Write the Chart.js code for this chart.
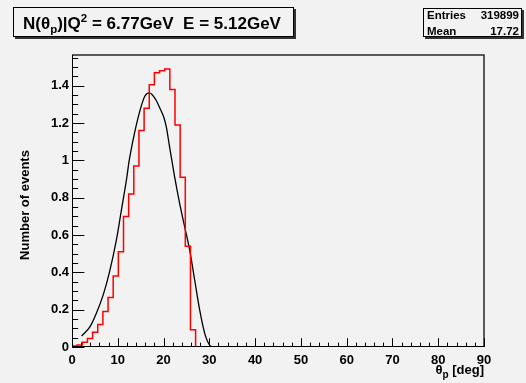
<!DOCTYPE html>
<html lang="en">

<head>
  <meta charset="utf-8">
  <title>N(theta_p) histogram</title>
  <script src="https://cdn.jsdelivr.net/npm/chart.js@4.4.0/dist/chart.umd.min.js"></script>
  <style>
    html, body { margin: 0; padding: 0; background: #f2f2f2; }
    canvas { display: block; }
  </style>
</head>

<body>
  <canvas id="myChart" width="526" height="383"></canvas>

  <script>
    // histogram: 80 bins from 0 to 90 deg
    const binWidth = 1.125;
    const histCounts = [
      0.005, 0.011, 0.025, 0.045, 0.079, 0.12, 0.19, 0.265, 0.38, 0.51,
      0.70, 0.82, 0.97, 1.16, 1.28, 1.405, 1.47, 1.48, 1.49, 1.38,
      1.19, 0.91, 0.54, 0.093, 0, 0, 0, 0, 0, 0,
      0, 0, 0, 0, 0, 0, 0, 0, 0, 0,
      0, 0, 0, 0, 0, 0, 0, 0, 0, 0,
      0, 0, 0, 0, 0, 0, 0, 0, 0, 0,
      0, 0, 0, 0, 0, 0, 0, 0, 0, 0,
      0, 0, 0, 0, 0, 0, 0, 0, 0, 0
    ];

    // smooth black curve
    const fitX = [2.1, 3.9, 5.3, 6.8, 8.2, 9.7, 10.8, 11.9, 12.5, 13.6, 14.8, 15.9, 16.9, 18.2, 19.2, 20.0, 20.6, 21.3, 22.4, 23.5, 24.6, 25.7, 26.8, 27.9, 29.0, 30.1, 30.8];
    const fitY = [0.059, 0.108, 0.18, 0.278, 0.403, 0.574, 0.735, 0.897, 1.0, 1.14, 1.263, 1.344, 1.362, 1.33, 1.28, 1.235, 1.18, 1.075, 0.914, 0.771, 0.645, 0.52, 0.359, 0.197, 0.072, 0.009, 0];

    const xTicks = [0, 10, 20, 30, 40, 50, 60, 70, 80, 90];
    const yTicks = [0, 0.2, 0.4, 0.6, 0.8, 1, 1.2, 1.4];
    const xMinorStep = 2;
    const yMinorStep = 0.05;
    const xMax = 90;
    const yMax = 1.565;

    const titleText = ['N(\u03b8', 'p', ')|Q', '2', ' = 6.77GeV  E = 5.12GeV'];
    const statsRows = [['Entries', '319899'], ['Mean', '17.72']];
    const xTitle = ['\u03b8', 'p', ' [deg]'];
    const yTitle = 'Number of events';

    const FONT = '"Liberation Sans", Arial, sans-serif';
    const BG = '#f2f2f2';

    const histData = histCounts.map((v, i) => ({ x: i * binWidth, y: v }));
    histData.push({ x: histCounts.length * binWidth, y: 0 });
    const fitData = fitX.map((x, i) => ({ x: x, y: fitY[i] }));

    function drawBox(ctx, x, y, w, h) {
      ctx.fillStyle = '#333';
      ctx.fillRect(x + 2, y + 2, w, h);
      ctx.fillStyle = BG;
      ctx.fillRect(x, y, w, h);
      ctx.strokeStyle = '#000';
      ctx.lineWidth = 1;
      ctx.strokeRect(x + 0.5, y + 0.5, w - 1, h - 1);
      ctx.fillStyle = '#000';
    }

    const rootStyle = {
      id: 'rootStyle',
      beforeDraw(chart) {
        const ctx = chart.ctx;
        ctx.save();
        ctx.fillStyle = BG;
        ctx.fillRect(0, 0, chart.width, chart.height);
        ctx.restore();
      },
      afterDatasetsDraw(chart) {
        const ctx = chart.ctx;
        const a = chart.chartArea;
        const xs = chart.scales.x;
        const ys = chart.scales.y;
        ctx.save();

        // frame top/right
        ctx.strokeStyle = '#2a2a2a';
        ctx.lineWidth = 1.5;
        ctx.beginPath();
        ctx.moveTo(a.left, a.top);
        ctx.lineTo(a.right, a.top);
        ctx.lineTo(a.right, a.bottom);
        ctx.stroke();

        // axes
        ctx.strokeStyle = '#000';
        ctx.lineWidth = 1;
        ctx.beginPath();
        ctx.moveTo(a.left + 0.5, a.top);
        ctx.lineTo(a.left + 0.5, a.bottom);
        ctx.moveTo(a.left, a.bottom - 0.5);
        ctx.lineTo(a.right, a.bottom - 0.5);
        ctx.stroke();

        // ticks inside the frame
        const xMajorLen = 0.03 * (a.bottom - a.top);
        const yMajorLen = 0.03 * (a.right - a.left);
        ctx.beginPath();
        for (let v = 0; v <= xMax + 1e-9; v += xMinorStep) {
          const px = Math.round(xs.getPixelForValue(v)) + 0.5;
          const len = (Math.abs(v % 10) < 1e-6) ? xMajorLen : xMajorLen / 2;
          ctx.moveTo(px, a.bottom);
          ctx.lineTo(px, a.bottom - len);
        }
        for (let v = 0; v <= yMax + 1e-9; v += yMinorStep) {
          const py = Math.round(ys.getPixelForValue(v)) + 0.5;
          const major = Math.abs(v / 0.2 - Math.round(v / 0.2)) < 1e-6;
          const len = major ? yMajorLen : yMajorLen / 2;
          ctx.moveTo(a.left, py);
          ctx.lineTo(a.left + len, py);
        }
        ctx.stroke();
        ctx.restore();
      },
      afterDraw(chart) {
        const ctx = chart.ctx;
        const a = chart.chartArea;
        ctx.save();
        ctx.textBaseline = 'alphabetic';

        // title box
        drawBox(ctx, 13, 7, 281, 30);
        let x = 23;
        const big = 'bold 17px ' + FONT;
        const small = 'bold 11.5px ' + FONT;
        ctx.textAlign = 'left';
        titleText.forEach((t, i) => {
          let y = 28.5;
          if (i === 1) { ctx.font = small; y = 32.5; }
          else if (i === 3) { ctx.font = small; y = 21.5; }
          else ctx.font = big;
          ctx.fillText(t, x, y);
          x += ctx.measureText(t).width;
        });

        // stats box
        drawBox(ctx, 423, 8, 99, 29);
        ctx.font = 'bold 11.5px ' + FONT;
        statsRows.forEach((row, i) => {
          const y = 19 + i * 16;
          ctx.textAlign = 'left';
          ctx.fillText(row[0], 427, y);
          ctx.textAlign = 'right';
          ctx.fillText(row[1], 519, y);
        });

        // x axis title, right aligned to the axis end
        const f13 = 'bold 13px ' + FONT;
        const f10 = 'bold 10px ' + FONT;
        ctx.font = f13;
        const w0 = ctx.measureText(xTitle[0]).width;
        const w2 = ctx.measureText(xTitle[2]).width;
        ctx.font = f10;
        const w1 = ctx.measureText(xTitle[1]).width;
        let tx = a.right - (w0 + w1 + w2);
        ctx.textAlign = 'left';
        ctx.font = f13;
        ctx.fillText(xTitle[0], tx, 374);
        tx += w0;
        ctx.font = f10;
        ctx.fillText(xTitle[1], tx, 377.5);
        tx += w1;
        ctx.font = f13;
        ctx.fillText(xTitle[2], tx, 374);

        // y axis title
        ctx.translate(29, 205);
        ctx.rotate(-Math.PI / 2);
        ctx.textAlign = 'center';
        ctx.font = f13;
        ctx.fillText(yTitle, 0, 0);
        ctx.restore();
      }
    };

    const config = {
      type: 'line',
      data: {
        datasets: [
          {
            label: 'hist',
            data: histData,
            stepped: 'before',
            borderColor: '#ff0000',
            borderWidth: 1.5,
            pointRadius: 0,
            fill: false
          },
          {
            label: 'curve',
            data: fitData,
            borderColor: '#000000',
            borderWidth: 1.3,
            pointRadius: 0,
            cubicInterpolationMode: 'monotone',
            fill: false
          }
        ]
      },
      options: {
        responsive: false,
        animation: false,
        layout: { padding: { left: 0, right: 42, top: 55, bottom: 0 } },
        plugins: {
          legend: { display: false },
          tooltip: { enabled: false }
        },
        scales: {
          x: {
            type: 'linear',
            min: 0,
            max: xMax,
            grid: { display: false, drawTicks: false, tickLength: 0 },
            border: { display: false },
            afterBuildTicks: s => { s.ticks = xTicks.map(v => ({ value: v })); },
            afterFit: s => { s.height = 36; },
            ticks: {
              padding: 6,
              maxRotation: 0,
              color: '#000',
              font: { family: FONT, size: 13, weight: 'bold' }
            }
          },
          y: {
            type: 'linear',
            min: 0,
            max: yMax,
            grid: { display: false, drawTicks: false, tickLength: 0 },
            border: { display: false },
            afterBuildTicks: s => { s.ticks = yTicks.map(v => ({ value: v })); },
            afterFit: s => { s.width = 72; },
            ticks: {
              padding: 3,
              color: '#000',
              font: { family: FONT, size: 13, weight: 'bold' },
              callback: v => String(Math.round(v * 10) / 10)
            }
          }
        }
      },
      plugins: [rootStyle]
    };

    const myChart = new Chart(document.getElementById('myChart'), config);
  </script>

</body>

</html>
